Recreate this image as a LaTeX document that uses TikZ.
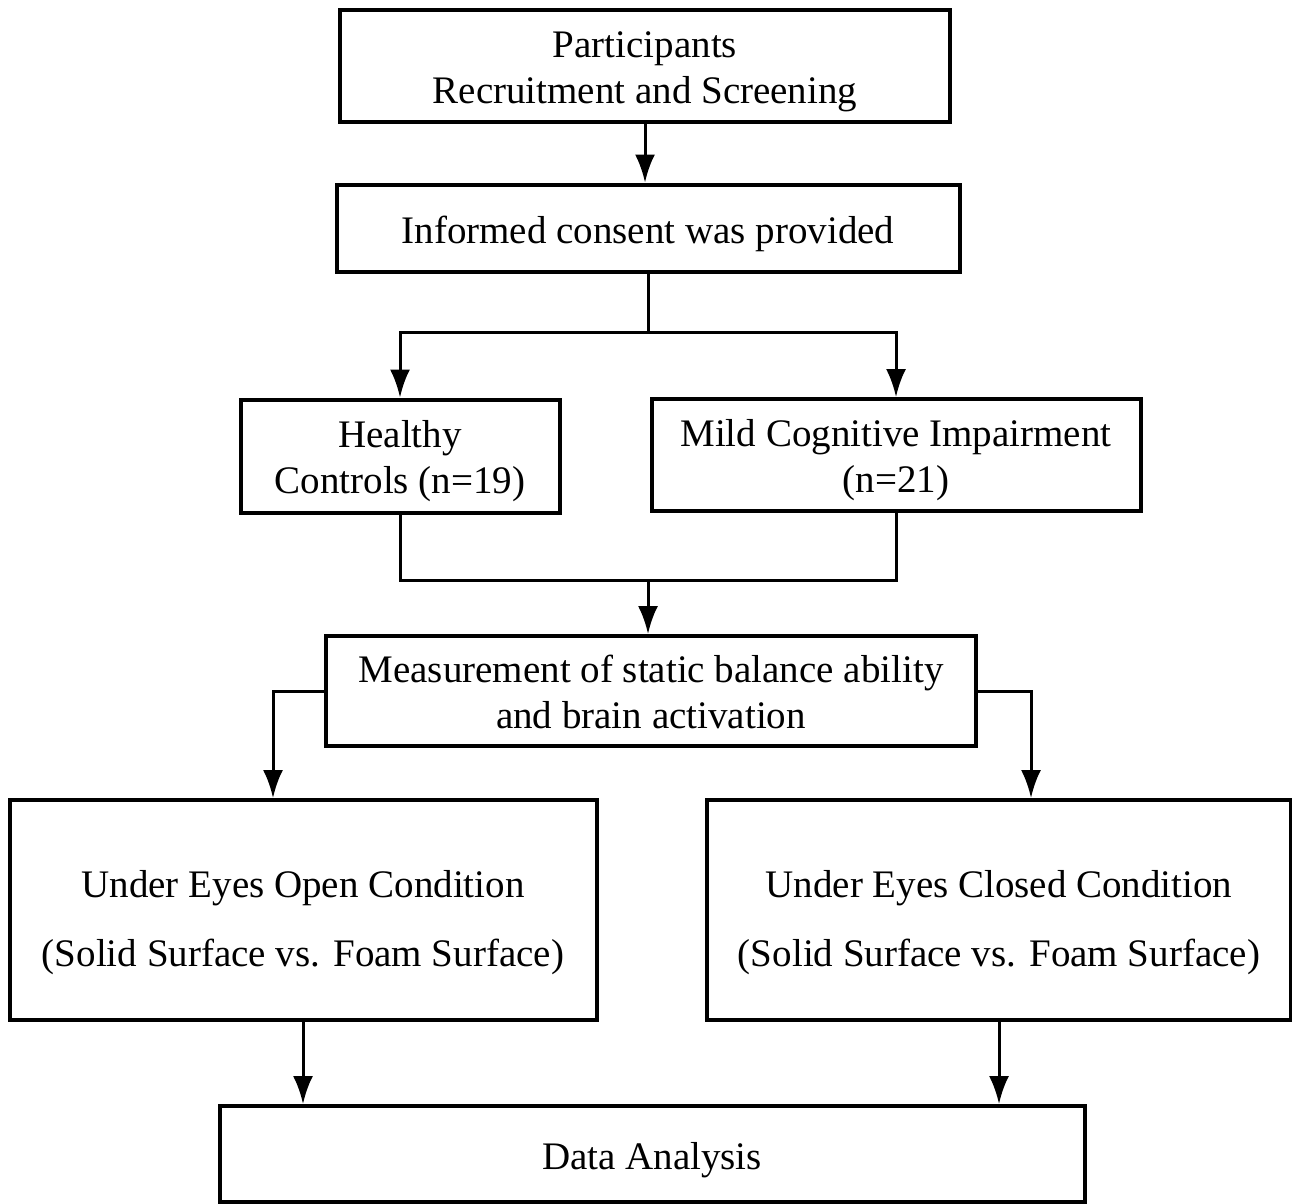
\documentclass[tikz,border=0pt]{standalone}
\usepackage{fontspec}
\setmainfont{Liberation Serif}
\usetikzlibrary{arrows.meta,calc}
\begin{document}
\begin{tikzpicture}[x=1pt,y=-1pt,
  box/.style={draw=black,line width=4pt,rectangle,inner sep=0pt},
  txt/.style={align=center,inner sep=0pt,font=\fontsize{39}{46}\selectfont},
  conn/.style={line width=3pt},
  arr/.style={conn,-{Latex[length=28pt,width=20pt]}}]
\useasboundingbox (0,0) rectangle (1292,1203);
\fill[white] (0,0) rectangle (1292,1203);
\node[box,minimum width=610pt,minimum height=112pt] (P) at (645,66) {};
\node[box,minimum width=623pt,minimum height=87pt] (I) at (648,228) {};
\node[box,minimum width=319pt,minimum height=113pt] (HC) at (400,456) {};
\node[box,minimum width=489pt,minimum height=112pt] (MCI) at (896,455) {};
\node[box,minimum width=650pt,minimum height=110pt] (M) at (651,691) {};
\node[box,minimum width=587pt,minimum height=220pt] (EO) at (303,910) {};
\node[box,minimum width=584pt,minimum height=220pt] (EC) at (999,910) {};
\node[box,minimum width=865pt,minimum height=96pt] (DA) at (652,1154) {};
\node[txt] (Pt) at ([yshift=-6pt]P.center) {Participants\\Recruitment and Screening};
\node[txt] (It) at ([yshift=-6pt]I.center) {Informed consent was provided};
\node[txt] (HCt) at ([yshift=-5pt]HC.center) {Healthy\\Controls (n=19)};
\node[txt] (MCIt) at ([yshift=-5pt]MCI.center) {Mild Cognitive Impairment\\(n=21)};
\node[txt] (Mt) at ([yshift=-1pt]M.center) {Measurement of static balance ability\\and brain activation};
\node[txt] (EOt) at ([yshift=-13pt]EO.center) {Under Eyes Open Condition\\[23pt](Solid Surface vs. Foam Surface)};
\node[txt] (ECt) at ([yshift=-13pt]EC.center) {Under Eyes Closed Condition\\[23pt](Solid Surface vs. Foam Surface)};
\node[txt] (DAt) at ([yshift=-6pt]DA.center) {Data Analysis};
\coordinate (j1) at (648,332);
\coordinate (j2) at (648,580);
\draw[arr] (P.south) -- (P.south |- I.north);
\draw[conn] (I.south) -- (j1);
\draw[arr] (j1) -| (HC.north);
\draw[arr] (j1) -| (MCI.north);
\draw[conn] (HC.south) |- (j2) -| (MCI.south);
\draw[arr] (j2) -- (j2 |- M.north);
\draw[arr] (M.west) -| ([xshift=-30pt]EO.north);
\draw[arr] (M.east) -| ([xshift=32pt]EC.north);
\draw[arr] (EO.south) -- (EO.south |- DA.north);
\draw[arr] (EC.south) -- (EC.south |- DA.north);
\end{tikzpicture}
\end{document}
